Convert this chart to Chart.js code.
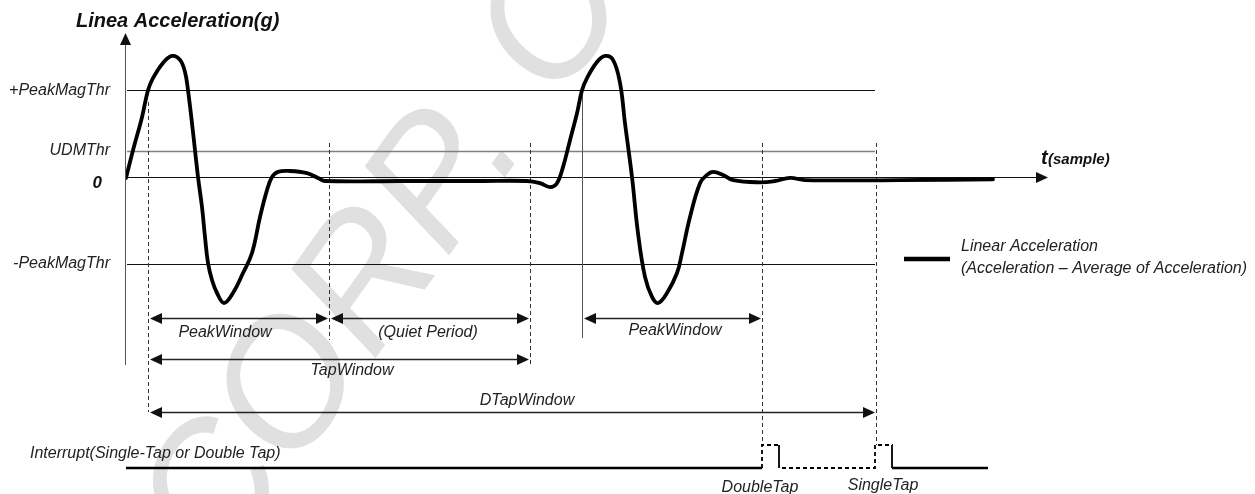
<!DOCTYPE html>
<html><head><meta charset="utf-8">
<script src="https://cdn.jsdelivr.net/npm/chart.js@4"></script>
<style>html,body{margin:0;padding:0;background:#fff;}#wrap{width:1255px;height:494px;position:relative;}</style>
</head><body><div id="wrap"><canvas id="c"></canvas></div>
<script>
// ---- data (t in samples, acceleration in g) ----
const sampleT = [0,7,16,22,27,37,46,54,59,62,66,69,72,76,79,82,86,91,98,107,117,126,134,141,146,152,164,181,192,199,274,354,401,414,424,431,437,444,451,456,461,471,479,487,494,499,506,512,519,526,532,541,551,556,564,574,581,587,597,607,634,649,664,679,774,867];
const accelG  = [-0.02,0.62,1.38,2.00,2.28,2.63,2.79,2.70,2.42,2.00,1.24,0.62,0,-0.69,-1.38,-1.98,-2.37,-2.67,-2.90,-2.67,-2.21,-1.75,-0.92,-0.30,0,0.12,0.14,0.09,-0.02,-0.09,-0.09,-0.09,-0.09,-0.14,-0.23,-0.14,0.23,0.85,1.47,2.00,2.28,2.65,2.79,2.70,2.17,1.24,0,-1.29,-2.30,-2.76,-2.90,-2.67,-2.21,-1.75,-0.92,-0.14,0.05,0.12,0.05,-0.07,-0.12,-0.09,-0.02,-0.07,-0.07,-0.05];
const thresholdNames = ['+PeakMagThr','UDMThr','-PeakMagThr'];
const thresholdG = [2.0, 0.6, -2.0];
const thresholdEndT = 749;
const markerT = [22, 203, 404, 456, 636, 750];
const windowLabels = ['PeakWindow','(Quiet Period)','TapWindow','PeakWindow','DTapWindow'];
const windowStartT = [22, 203, 22, 456, 22];
const windowEndT   = [203, 404, 404, 636, 750];
const interruptT     = [0, 636, 636, 653, 653, 749, 749, 766, 766, 862];
const interruptLevel = [0, 0, 1, 1, 0, 0, 1, 1, 0, 0];
const eventLabels = ['DoubleTap','SingleTap'];
const eventT = [636, 749];
const titleText = 'Linea Acceleration(g)';
const legendLines = ['Linear Acceleration','(Acceleration \u2013 Average of Acceleration)'];

// ---- layout / style (pixels) ----
const FONT = '"Liberation Sans", Arial, sans-serif';
const markerStyle = [
  {top:102,bottom:412,dash:true},{top:143,bottom:340,dash:true},{top:143,bottom:365,dash:true},
  {top:90,bottom:338,dash:false},{top:143,bottom:445,dash:true},{top:143,bottom:445,dash:true}];
const windowRows = [318,318,359,318,412];
const windowText = [{x:225,y:333},{x:428,y:333},{x:352,y:371},{x:675,y:331},{x:527,y:401}];

const accelData = sampleT.map((t,i)=>({x:t,y:accelG[i]}));
const intData = interruptT.map((t,i)=>({x:t,y:interruptLevel[i]}));

function arrowHead(ctx,x,y,dir,len,hw){
  ctx.beginPath();ctx.moveTo(x,y);ctx.lineTo(x-dir*len,y-hw);ctx.lineTo(x-dir*len,y+hw);ctx.closePath();ctx.fill();
}

const deco = {
  id:'deco',
  beforeDraw(chart){
    const ctx=chart.ctx;
    ctx.save();
    // watermark
    ctx.fillStyle='#e0e0e0';
    ctx.font='italic 175px '+FONT;
    const ang=-0.95;
    const pre='OST CORP';
    const w=ctx.measureText(pre).width+ctx.measureText('.').width/2;
    const dx=528, dy=145;
    ctx.translate(dx-w*Math.cos(ang), dy-w*Math.sin(ang));
    ctx.rotate(ang);
    ctx.textBaseline='alphabetic';
    ctx.fillText('OST CORP. CO',0,0);
    ctx.restore();
  },
  beforeDatasetsDraw(chart){
    const ctx=chart.ctx, xs=chart.scales.x, ys=chart.scales.y;
    ctx.save();
    const x0=xs.getPixelForValue(0);
    thresholdG.forEach((g,i)=>{
      const y=Math.round(ys.getPixelForValue(g))+0.5;
      ctx.strokeStyle = i===1 ? '#808080' : '#111';
      ctx.lineWidth = i===1 ? 1.5 : 1;
      ctx.beginPath();ctx.moveTo(x0+1,y);ctx.lineTo(xs.getPixelForValue(thresholdEndT),y);ctx.stroke();
    });
    const yz=Math.round(ys.getPixelForValue(0))+0.5;
    const xe=xs.getPixelForValue(xs.max);
    ctx.strokeStyle='#111';ctx.lineWidth=1;
    ctx.beginPath();ctx.moveTo(x0+1,yz);ctx.lineTo(xe-8,yz);ctx.stroke();
    ctx.fillStyle='#111';arrowHead(ctx,xe,yz,1,12,5.5);
    ctx.strokeStyle='#555';
    ctx.beginPath();ctx.moveTo(x0-0.5,44);ctx.lineTo(x0-0.5,365);ctx.stroke();
    ctx.fillStyle='#111';
    ctx.beginPath();ctx.moveTo(x0-0.5,33);ctx.lineTo(x0-6,45);ctx.lineTo(x0+5,45);ctx.closePath();ctx.fill();
    markerT.forEach((t,i)=>{
      const s=markerStyle[i];
      const x=Math.round(xs.getPixelForValue(t))+0.5;
      ctx.strokeStyle = s.dash ? '#333' : '#555';
      ctx.lineWidth=1;
      ctx.setLineDash(s.dash?[4,3]:[]);
      ctx.beginPath();ctx.moveTo(x,s.top);ctx.lineTo(x,s.bottom);ctx.stroke();
    });
    ctx.setLineDash([]);
    windowStartT.forEach((t0,i)=>{
      const a=xs.getPixelForValue(t0)+2, b=xs.getPixelForValue(windowEndT[i])-1;
      const y=windowRows[i]+0.5;
      ctx.strokeStyle='#222';ctx.lineWidth=1.4;
      ctx.beginPath();ctx.moveTo(a+6,y);ctx.lineTo(b-6,y);ctx.stroke();
      ctx.fillStyle='#111';
      arrowHead(ctx,a,y,-1,12,5.5);
      arrowHead(ctx,b,y,1,12,5.5);
    });
    ctx.restore();
  },
  afterDraw(chart){
    const ctx=chart.ctx, xs=chart.scales.x, ys=chart.scales.y;
    ctx.save();
    ctx.fillStyle='#111';
    ctx.font='italic bold 20px '+FONT;
    ctx.textBaseline='middle';ctx.textAlign='left';
    ctx.fillText(titleText,76,21);
    ctx.font='italic 16px '+FONT;ctx.fillStyle='#222';ctx.textAlign='right';
    thresholdNames.forEach((n,i)=>ctx.fillText(n,110,ys.getPixelForValue(thresholdG[i])));
    ctx.font='italic bold 17px '+FONT;ctx.fillStyle='#111';
    ctx.fillText('0',102,ys.getPixelForValue(0)+6);
    ctx.textAlign='left';ctx.textBaseline='alphabetic';
    ctx.font='italic bold 20px '+FONT;ctx.fillText('t',1041,164);
    ctx.font='italic bold 15px '+FONT;ctx.fillText('(sample)',1048,164);
    ctx.font='italic 16px '+FONT;ctx.fillStyle='#222';ctx.textAlign='center';ctx.textBaseline='middle';
    windowLabels.forEach((l,i)=>ctx.fillText(l,windowText[i].x,windowText[i].y));
    ctx.strokeStyle='#000';ctx.lineWidth=4.5;
    ctx.beginPath();ctx.moveTo(904,259);ctx.lineTo(950,259);ctx.stroke();
    ctx.textAlign='left';
    ctx.fillText(legendLines[0],961,247);
    ctx.fillText(legendLines[1],961,269);
    ctx.fillText('Interrupt(Single-Tap or Double Tap)',30,454);
    ctx.textAlign='center';
    ctx.fillText(eventLabels[0],xs.getPixelForValue(eventT[0])-2,488);
    ctx.fillText(eventLabels[1],xs.getPixelForValue(eventT[1])+8,486);
    ctx.restore();
  }
};

new Chart(document.getElementById('c'),{
  type:'line',
  data:{datasets:[
    {data:accelData,borderColor:'#000',borderWidth:3.8,pointRadius:0,tension:0.4,yAxisID:'y',borderJoinStyle:'round',borderCapStyle:'round'},
    {data:intData,borderColor:'#000',borderWidth:2.6,pointRadius:0,tension:0,yAxisID:'y2',
     segment:{borderDash:c=>(c.p0DataIndex>=1&&c.p0DataIndex<=7)?[4,3]:undefined,
              borderWidth:c=>(c.p0DataIndex>=1&&c.p0DataIndex<=7)?1.8:2.6}}
  ]},
  options:{
    responsive:true,maintainAspectRatio:false,animation:false,
    layout:{padding:{left:126,right:207,top:36,bottom:0}},
    scales:{
      x:{type:'linear',min:0,max:922,display:false},
      y:{min:-7.3,max:3.25,display:false},
      y2:{min:-1.13,max:18.78,display:false}
    },
    plugins:{legend:{display:false},tooltip:{enabled:false}}
  },
  plugins:[deco]
});
</script></body></html>
